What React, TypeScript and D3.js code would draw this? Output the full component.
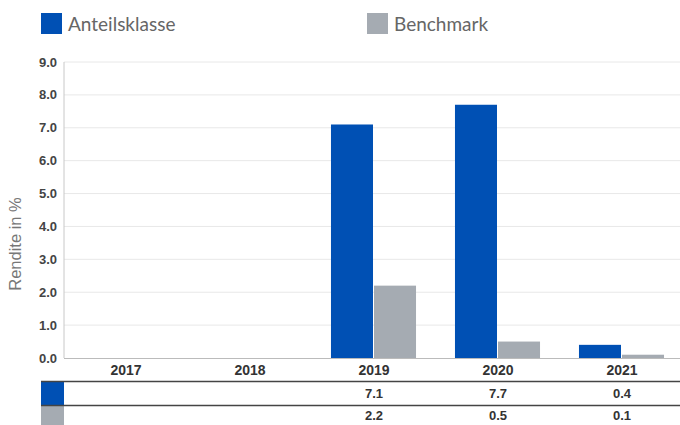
import { useEffect, useRef } from "react";
import * as d3 from "d3";

const years = ["2017", "2018", "2019", "2020", "2021"];
const anteilsklasse = [null, null, 7.1, 7.7, 0.4];
const benchmark = [null, null, 2.2, 0.5, 0.1];
const yTicks = [0, 1, 2, 3, 4, 5, 6, 7, 8, 9];

const BLUE = "#0050b4";
const GRAY = "#a5abb2";

export default function App() {
  const svgRef = useRef(null);

  useEffect(() => {
    if (!svgRef.current) return;
    const width = 680;
    const height = 425;
    const left = 64;
    const right = 680;
    const top = 62;
    const bottom = 358;

    const svg = d3.select(svgRef.current);
    svg.selectAll("*").remove();
    svg.attr("width", width).attr("height", height);

    // bands run a little past the visible right edge, as in the original
    const x0 = d3
      .scaleBand()
      .domain(years)
      .range([left, 684])
      .paddingInner(0.306)
      .paddingOuter(0.153);

    const x1 = d3
      .scaleBand()
      .domain(["a", "b"])
      .range([0, x0.bandwidth()])
      .padding(0);

    const y = d3.scaleLinear().domain([0, 9]).range([bottom, top]);

    // legend
    const legend = [
      { label: "Anteilsklasse", color: BLUE, x: 41 },
      { label: "Benchmark", color: GRAY, x: 367 },
    ];
    legend.forEach((l) => {
      svg
        .append("rect")
        .attr("x", l.x)
        .attr("y", 13)
        .attr("width", 21)
        .attr("height", 21)
        .attr("fill", l.color);
      svg
        .append("text")
        .attr("x", l.x + 27)
        .attr("y", 31)
        .attr("font-family", "Lato, 'Open Sans', sans-serif")
        .attr("font-size", "19px")
        .attr("fill", "#666")
        .text(l.label);
    });

    // grid
    yTicks.forEach((t) => {
      if (t > 0) {
        svg
          .append("line")
          .attr("x1", left)
          .attr("x2", right)
          .attr("y1", y(t))
          .attr("y2", y(t))
          .attr("stroke", "#e8e8e8")
          .attr("stroke-width", 1);
      }
      svg
        .append("text")
        .attr("x", 57)
        .attr("y", y(t))
        .attr("dy", "0.35em")
        .attr("text-anchor", "end")
        .attr("font-family", "'Liberation Sans', Arial, sans-serif")
        .attr("font-weight", "bold")
        .attr("font-size", "13px")
        .attr("fill", "#444")
        .text(d3.format(".1f")(t));
    });

    svg
      .append("line")
      .attr("x1", left)
      .attr("x2", left)
      .attr("y1", top)
      .attr("y2", bottom)
      .attr("stroke", "#c8c8c8");

    svg
      .append("text")
      .attr("transform", `translate(21,244) rotate(-90)`)
      .attr("text-anchor", "middle")
      .attr("font-family", "'Liberation Sans', Arial, sans-serif")
      .attr("font-size", "16.5px")
      .attr("fill", "#777")
      .text("Rendite in %");

    // bars
    years.forEach((yr, i) => {
      const series = [
        { key: "a", v: anteilsklasse[i], color: BLUE },
        { key: "b", v: benchmark[i], color: GRAY },
      ];
      series.forEach((s) => {
        if (s.v == null) return;
        svg
          .append("rect")
          .attr("x", x0(yr)! + x1(s.key)!)
          .attr("y", y(s.v))
          .attr("width", x1.bandwidth() - 1)
          .attr("height", y(0) - y(s.v))
          .attr("fill", s.color);
      });
    });

    svg
      .append("line")
      .attr("x1", left)
      .attr("x2", right)
      .attr("y1", bottom + 0.5)
      .attr("y2", bottom + 0.5)
      .attr("stroke", "#bbb");

    // category labels
    years.forEach((yr) => {
      svg
        .append("text")
        .attr("x", x0(yr)! + x0.bandwidth() / 2)
        .attr("y", 375)
        .attr("text-anchor", "middle")
        .attr("font-family", "'Liberation Sans Narrow', 'Liberation Sans', Arial, sans-serif")
        .attr("font-weight", "bold")
        .attr("font-size", "14px")
        .attr("fill", "#333")
        .text(yr);
    });

    // data table
    const rows = [
      { values: anteilsklasse, color: BLUE, y0: 382, y1: 405 },
      { values: benchmark, color: GRAY, y0: 406, y1: 430 },
    ];
    rows.forEach((r) => {
      svg
        .append("rect")
        .attr("x", 41)
        .attr("y", r.y0)
        .attr("width", 23)
        .attr("height", r.y1 - r.y0)
        .attr("fill", r.color);
      svg
        .append("line")
        .attr("x1", 41)
        .attr("x2", right)
        .attr("y1", r.y0 - 0.5)
        .attr("y2", r.y0 - 0.5)
        .attr("stroke", "#444")
        .attr("stroke-width", 1.5);
      years.forEach((yr, i) => {
        const v = r.values[i];
        if (v == null) return;
        svg
          .append("text")
          .attr("x", x0(yr)! + x0.bandwidth() / 2)
          .attr("y", (r.y0 + Math.min(r.y1, 425)) / 2)
          .attr("dy", "0.36em")
          .attr("text-anchor", "middle")
          .attr("font-family", "'Liberation Sans Narrow', 'Liberation Sans', Arial, sans-serif")
          .attr("font-weight", "bold")
          .attr("font-size", "13px")
          .attr("fill", "#333")
          .text(d3.format(".1f")(v));
      });
    });
  }, []);

  return (
    <svg
      ref={svgRef}
      style={{ position: "absolute", left: 0, top: 0, display: "block" }}
    />
  );
}
